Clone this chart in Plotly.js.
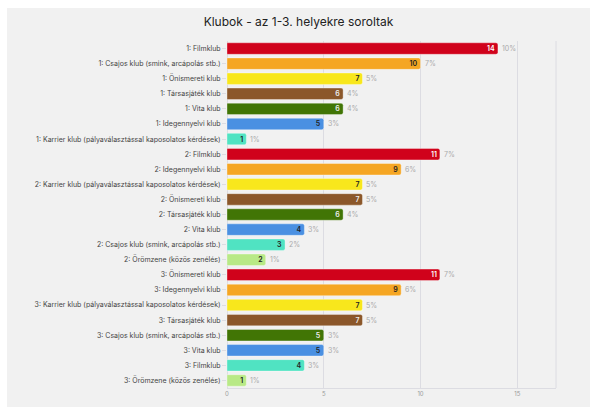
<!DOCTYPE html>
<html>
<head>
<meta charset="utf-8">
<script src="https://cdn.plot.ly/plotly-3.0.1.min.js"></script>
<style>
html,body{margin:0;padding:0;background:#ffffff;width:590px;height:407px;overflow:hidden;}
#chart{position:absolute;left:7px;top:8px;width:583px;height:399px;}
</style>
</head>
<body>
<div id="chart"></div>
<script>
const categories = [
  "1: Filmklub",
  "1: Csajos klub (smink, arcápolás stb.)",
  "1: Önismereti klub",
  "1: Társasjáték klub",
  "1: Vita klub",
  "1: Idegennyelvi klub",
  "1: Karrier klub (pályaválasztással kaposolatos kérdések)",
  "2: Filmklub",
  "2: Idegennyelvi klub",
  "2: Karrier klub (pályaválasztással kaposolatos kérdések)",
  "2: Önismereti klub",
  "2: Társasjáték klub",
  "2: Vita klub",
  "2: Csajos klub (smink, arcápolás stb.)",
  "2: Örömzene (közös zenélés)",
  "3: Önismereti klub",
  "3: Idegennyelvi klub",
  "3: Karrier klub (pályaválasztással kaposolatos kérdések)",
  "3: Társasjáték klub",
  "3: Csajos klub (smink, arcápolás stb.)",
  "3: Vita klub",
  "3: Filmklub",
  "3: Örömzene (közös zenélés)"
];
const values = [14,10,7,6,6,5,1, 11,9,7,7,6,4,3,2, 11,9,7,7,5,5,4,1];
const percents = ["10%","7%","5%","4%","4%","3%","1%", "7%","6%","5%","5%","4%","3%","2%","1%", "7%","6%","5%","5%","3%","3%","3%","1%"];
const rankInGroup = [0,1,2,3,4,5,6, 0,1,2,3,4,5,6,7, 0,1,2,3,4,5,6,7];

const palette = ["#d0021b","#f5a623","#f8e71c","#8b572a","#417505","#4a90e2","#50e3c2","#b8e986"];
const insideText = ["#ffffff","#222222","#222222","#eeeeee","#eeeeee","#222222","#222222","#222222"];

const colors = rankInGroup.map(i => palette[i]);
const textColors = rankInGroup.map(i => insideText[i]);

const FONT = "Inter, 'Noto Sans', sans-serif";

const trace = {
  type: "bar",
  orientation: "h",
  y: categories,
  x: values,
  text: values.map(String),
  textposition: "inside",
  insidetextanchor: "end",
  textangle: 0,
  constraintext: "none",
  textfont: {family: FONT, size: 7, color: textColors, weight: 600},
  marker: {color: colors, line: {color: "rgba(255,255,255,0.35)", width: 1}},
  hoverinfo: "none",
  cliponaxis: false
};

const annotations = categories.map((c, i) => ({
  x: values[i], y: c, xref: "x", yref: "y",
  text: percents[i], showarrow: false,
  xanchor: "left", xshift: 2,
  font: {family: FONT, size: 7, color: "#aaaaaa"}
}));

const layout = {
  width: 583, height: 399,
  paper_bgcolor: "#f1f1f1",
  plot_bgcolor: "#f1f1f1",
  margin: {l: 220, r: 34, t: 33, b: 19},
  title: {text: "Klubok - az 1-3. helyekre soroltak", x: 0.5, xanchor: "center", y: 0.965, yanchor: "middle",
          font: {family: FONT, size: 12, color: "#222222"}},
  font: {family: FONT},
  bargap: 0.24,
  barcornerradius: 2,
  showlegend: false,
  xaxis: {
    range: [0, 17], dtick: 5, tick0: 0,
    showgrid: true, gridcolor: "#dcdce2", gridwidth: 1,
    zeroline: true, zerolinecolor: "#dcdce2", zerolinewidth: 1,
    showline: true, linecolor: "#dcdce2", linewidth: 1,
    ticks: "", ticklen: 0,
    tickfont: {size: 6, color: "#999999"},
    fixedrange: true
  },
  yaxis: {
    type: "category",
    autorange: "reversed",
    showgrid: false, zeroline: false, showline: false,
    ticks: "outside", ticklen: 4, tickcolor: "#dcdce2",
    tickfont: {size: 7, color: "#444444"},
    automargin: false,
    fixedrange: true
  },
  shapes: [{type: "line", xref: "paper", yref: "paper", x0: 1, x1: 1, y0: 0, y1: 1,
            line: {color: "#dcdce2", width: 1}}],
  annotations: annotations
};

Plotly.newPlot("chart", [trace], layout, {displayModeBar: false, staticPlot: true});
</script>
</body>
</html>
